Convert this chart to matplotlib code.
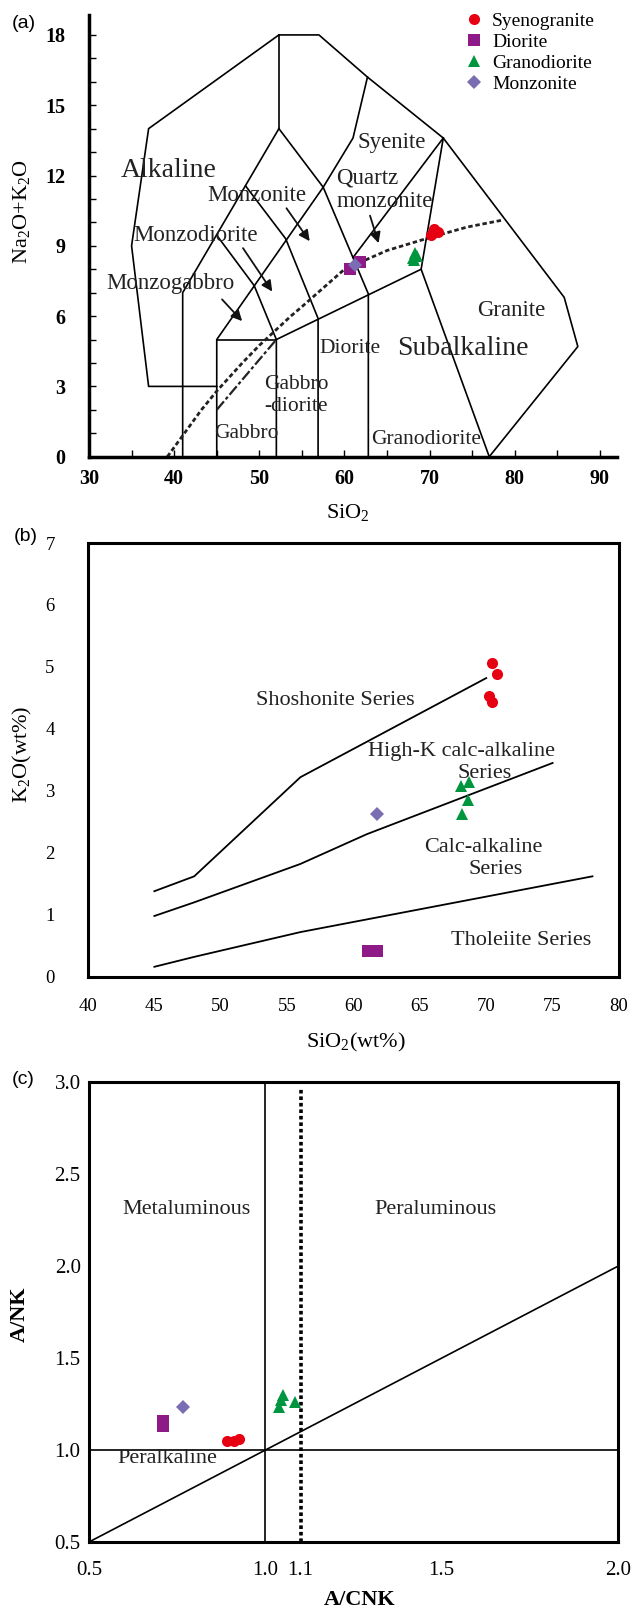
import matplotlib
matplotlib.use("Agg")
import matplotlib.pyplot as plt
from matplotlib.lines import Line2D

plt.rcParams["font.family"] = ["Liberation Serif", "DejaVu Serif"]
plt.rcParams["mathtext.fontset"] = "custom"
plt.rcParams["mathtext.rm"] = "Liberation Serif"
plt.rcParams["mathtext.bf"] = "Liberation Serif:bold"

W, H = 635, 1611

# ---------------- sample data ----------------
groups = ["Syenogranite", "Diorite", "Granodiorite", "Monzonite"]
colors = {"Syenogranite": "#e60012", "Diorite": "#8e1a87",
          "Granodiorite": "#00963f", "Monzonite": "#7a6db2"}
markers = {"Syenogranite": "o", "Diorite": "s", "Granodiorite": "^", "Monzonite": "D"}

# (a) TAS
tas_syeno_x = [70.2, 70.5, 71.0, 70.4]
tas_syeno_y = [9.45, 9.70, 9.60, 9.55]
tas_dior_x = [60.6, 61.8]
tas_dior_y = [8.00, 8.30]
tas_grano_x = [68.0, 68.3, 68.5, 68.2]
tas_grano_y = [8.50, 8.70, 8.55, 8.40]
tas_monz_x = [61.2]
tas_monz_y = [8.17]

# (b) SiO2 - K2O
k_syeno_x = [70.4, 70.8, 70.2, 70.4]
k_syeno_y = [5.07, 4.89, 4.53, 4.44]
k_dior_x = [61.1, 61.8]
k_dior_y = [0.42, 0.41]
k_grano_x = [68.1, 68.7, 68.6, 68.2]
k_grano_y = [3.07, 3.14, 2.85, 2.62]
k_monz_x = [61.8]
k_monz_y = [2.63]

# (c) A/CNK - A/NK
a_syeno_x = [0.89, 0.91, 0.925]
a_syeno_y = [1.05, 1.05, 1.06]
a_dior_x = [0.71, 0.71]
a_dior_y = [1.16, 1.13]
a_grano_x = [1.05, 1.045, 1.04, 1.085]
a_grano_y = [1.30, 1.27, 1.235, 1.26]
a_monz_x = [0.766]
a_monz_y = [1.235]

# ---------------- (a) field boundaries ----------------
tas_lines = [
    ([52.3, 37, 35, 37, 45], [18, 14, 9, 3, 3]),
    ([52.3, 57, 62.7, 71.6, 85.8, 87.4, 77], [18, 18, 16.2, 13.6, 6.8, 4.7, 0]),
    ([52.3, 52.3], [18, 14]),
    ([41, 41, 52.3], [0, 7, 14]),
    ([52.3, 57.5, 62.8, 62.8], [14, 11.5, 6.95, 0]),
    ([45, 49.4, 52, 52], [9.45, 7.3, 5, 0]),
    ([48.4, 53.1, 56.9, 56.9], [11.55, 9.3, 5.9, 0]),
    ([45, 45, 57.5, 61, 62.7], [0, 5, 11.5, 13.6, 16.2]),
    ([45, 52], [5, 5]),
    ([52, 69, 77], [5, 8, 0]),
    ([69, 71.6], [8, 13.6]),
    ([61, 71.6], [8.5, 13.6]),
]
alk_curve_x = [39.2, 40, 43.2, 45, 48, 50, 53.7, 55, 60, 65, 70, 74.4, 78.6]
alk_curve_y = [0, 0.4, 2.0, 2.8, 4.0, 4.75, 6.0, 6.4, 8.0, 8.8, 9.35, 9.8, 10.1]
dashdot_x = [45, 52]
dashdot_y = [2, 5]

tas_labels = [
    ("Alkaline", 39.3, 12.2, 20, "center"),
    ("Monzonite", 49.75, 11.16, 16.5, "center"),
    ("Monzodiorite", 42.5, 9.45, 16.5, "center"),
    ("Monzogabbro", 39.6, 7.39, 16.5, "center"),
    ("Syenite", 65.5, 13.43, 16.5, "center"),
    ("Quartz", 59.05, 11.88, 16.5, "left"),
    ("monzonite", 59.05, 10.87, 16.5, "left"),
    ("Diorite", 60.6, 4.62, 15.5, "center"),
    ("Subalkaline", 73.96, 4.62, 20, "center"),
    ("Granite", 79.55, 6.26, 16.5, "center"),
    ("Granodiorite", 69.6, 0.74, 15.5, "center"),
    ("Gabbro", 50.55, 3.10, 15.5, "left"),
    ("-diorite", 50.55, 2.13, 15.5, "left"),
    ("Gabbro", 48.5, 0.97, 15.5, "center"),
]
tas_arrows = [
    ((45.4, 6.8), (48.2, 5.7)),
    ((47.9, 9.0), (51.7, 6.95)),
    ((53.0, 10.7), (56.1, 9.1)),
    ((62.9, 10.4), (64.1, 9.0)),
]

# ---------------- (b) series boundaries ----------------
sho_x = [45, 48, 56, 70]
sho_y = [1.38, 1.62, 3.22, 4.82]
hik_x = [45, 48, 56, 61, 75]
hik_y = [0.98, 1.20, 1.82, 2.30, 3.45]
tho_x = [45, 48, 56, 78]
tho_y = [0.16, 0.32, 0.72, 1.62]
k_labels = [
    ("Shoshonite Series", 58.6, 4.45),
    ("High-K calc-alkaline", 68.1, 3.63),
    ("Series", 69.9, 3.28),
    ("Calc-alkaline", 69.8, 2.09),
    ("Series", 70.7, 1.73),
    ("Tholeiite Series", 72.65, 0.59),
]

ms = 8


def scatter(ax, name, xs, ys):
    ax.plot(xs, ys, linestyle="none", marker=markers[name], color=colors[name],
            markersize=ms if markers[name] != "D" else ms - 1, markeredgewidth=0, zorder=5)


fig = plt.figure(figsize=(W / 100, H / 100), dpi=100)

# ================= (a) =================
ax = fig.add_axes([89 / W, 1 - 456.7 / H, 528 / W, 441.7 / H])
for xs, ys in tas_lines:
    ax.plot(xs, ys, color="k", lw=1.2)
ax.plot(alk_curve_x, alk_curve_y, color="#222", lw=2.0, linestyle=(0, (1.6, 1.0)))
ax.plot(dashdot_x, dashdot_y, color="#222", lw=1.6, linestyle=(0, (5, 1.2, 1.5, 1.2)))
for txt, x, y, fs, ha in tas_labels:
    ax.text(x, y, txt, fontsize=fs, ha=ha, va="center", color="#222")
for (x0, y0), (x1, y1) in tas_arrows:
    ax.annotate("", xy=(x1, y1), xytext=(x0, y0),
                arrowprops=dict(arrowstyle="-|>", color="#111", lw=1.3, mutation_scale=16))
scatter(ax, "Syenogranite", tas_syeno_x, tas_syeno_y)
scatter(ax, "Granodiorite", tas_grano_x, tas_grano_y)
scatter(ax, "Diorite", tas_dior_x, tas_dior_y)
scatter(ax, "Monzonite", tas_monz_x, tas_monz_y)

ax.set_xlim(30, 92)
ax.set_ylim(0, 18.85)
ax.spines["top"].set_visible(False)
ax.spines["right"].set_visible(False)
ax.spines["left"].set_linewidth(2.5)
ax.spines["bottom"].set_linewidth(2.5)
ax.set_xticks(range(30, 91, 10))
ax.set_xticks(range(35, 91, 10), minor=True)
ax.set_yticks(range(0, 19, 3))
ax.set_yticks(range(0, 19, 1), minor=True)
ax.tick_params(which="both", direction="in", length=5, width=1)
ax.tick_params(axis="x", which="major", pad=9)
ax.tick_params(axis="y", which="major", pad=17)
for lab in ax.get_xticklabels() + ax.get_yticklabels():
    lab.set_fontsize(14.5)
    lab.set_fontweight("bold")

handles = [Line2D([], [], linestyle="none", marker=markers[g], color=colors[g],
                  markersize=8 if g != "Monzonite" else 7, markeredgewidth=0) for g in groups]
fig.legend(handles, groups, loc="upper left", bbox_to_anchor=(464 / W, 1 - 12 / H),
           frameon=False, fontsize=14, handlelength=1.0, handletextpad=0.45,
           labelspacing=0.18, borderpad=0, borderaxespad=0)

fig.text(24 / W, 1 - 24 / H, "(a)", family="Liberation Sans", fontsize=14, ha="center", va="center")
fig.text(22 / W, 1 - 212 / H, "Na$_\\mathrm{2}$O+K$_\\mathrm{2}$O", fontsize=16, rotation=90,
         ha="center", va="center")
fig.text(348 / W, 1 - 513 / H, "SiO$_\\mathrm{2}$", fontsize=16, ha="center", va="center")

# ================= (b) =================
bx = fig.add_axes([88 / W, 1 - 976.7 / H, 531 / W, 433.7 / H])
bx.plot(sho_x, sho_y, color="k", lw=1.3)
bx.plot(hik_x, hik_y, color="k", lw=1.3)
bx.plot(tho_x, tho_y, color="k", lw=1.3)
for txt, x, y in k_labels:
    bx.text(x, y, txt, fontsize=16, ha="center", va="center", color="#222")
scatter(bx, "Syenogranite", k_syeno_x, k_syeno_y)
scatter(bx, "Granodiorite", k_grano_x, k_grano_y)
scatter(bx, "Diorite", k_dior_x, k_dior_y)
scatter(bx, "Monzonite", k_monz_x, k_monz_y)
bx.set_xlim(40, 80)
bx.set_ylim(0, 7)
bx.set_xticks(range(40, 81, 5))
bx.set_yticks(range(0, 8))
for s in bx.spines.values():
    s.set_linewidth(2.2)
bx.tick_params(length=0, labelsize=13.5)
bx.tick_params(axis="x", pad=15)
bx.tick_params(axis="y", pad=24)

fig.text(26 / W, 1 - 537 / H, "(b)", family="Liberation Sans", fontsize=14, ha="center", va="center")
fig.text(22 / W, 1 - 754 / H, "K$_\\mathrm{2}$O(wt%)", fontsize=16, rotation=90,
         ha="center", va="center")
fig.text(356 / W, 1 - 1042 / H, "SiO$_\\mathrm{2}$(wt%)", fontsize=16, ha="center", va="center")

# ================= (c) =================
cx = fig.add_axes([89 / W, 1 - 1542 / H, 529 / W, 459.7 / H])
cx.plot([1.0, 1.0], [0.5, 3.0], color="k", lw=1.2)
cx.plot([0.5, 2.0], [1.0, 1.0], color="k", lw=1.2)
cx.plot([0.5, 2.0], [0.5, 2.0], color="k", lw=1.2)
cx.plot([1.1, 1.1], [0.5, 2.97], color="k", lw=2.6, linestyle=(0, (1.0, 0.8)))
cx.text(0.776, 2.31, "Metaluminous", fontsize=16, ha="center", va="center", color="#222")
cx.text(1.483, 2.31, "Peraluminous", fontsize=16, ha="center", va="center", color="#222")
cx.text(0.722, 0.955, "Peralkaline", fontsize=16, ha="center", va="center", color="#222")
scatter(cx, "Syenogranite", a_syeno_x, a_syeno_y)
scatter(cx, "Granodiorite", a_grano_x, a_grano_y)
scatter(cx, "Diorite", a_dior_x, a_dior_y)
scatter(cx, "Monzonite", a_monz_x, a_monz_y)
cx.set_xlim(0.5, 2.0)
cx.set_ylim(0.5, 3.0)
cx.set_xticks([0.5, 1.0, 1.1, 1.5, 2.0])
cx.set_xticklabels(["0.5", "1.0", "1.1", "1.5", "2.0"])
cx.set_yticks([0.5, 1.0, 1.5, 2.0, 2.5, 3.0])
cx.set_yticklabels(["0.5", "1.0", "1.5", "2.0", "2.5", "3.0"])
for s in cx.spines.values():
    s.set_linewidth(2.2)
cx.tick_params(length=0, labelsize=15)
cx.tick_params(axis="x", pad=14)
cx.tick_params(axis="y", pad=6)

fig.text(23 / W, 1 - 1080 / H, "(c)", family="Liberation Sans", fontsize=14, ha="center", va="center")
fig.text(20 / W, 1 - 1314 / H, "A/NK", fontsize=16, fontweight="bold", rotation=90,
         ha="center", va="center")
fig.text(360 / W, 1 - 1600 / H, "A/CNK", fontsize=16, fontweight="bold", ha="center", va="center")

fig.savefig("out.png", dpi=100)
